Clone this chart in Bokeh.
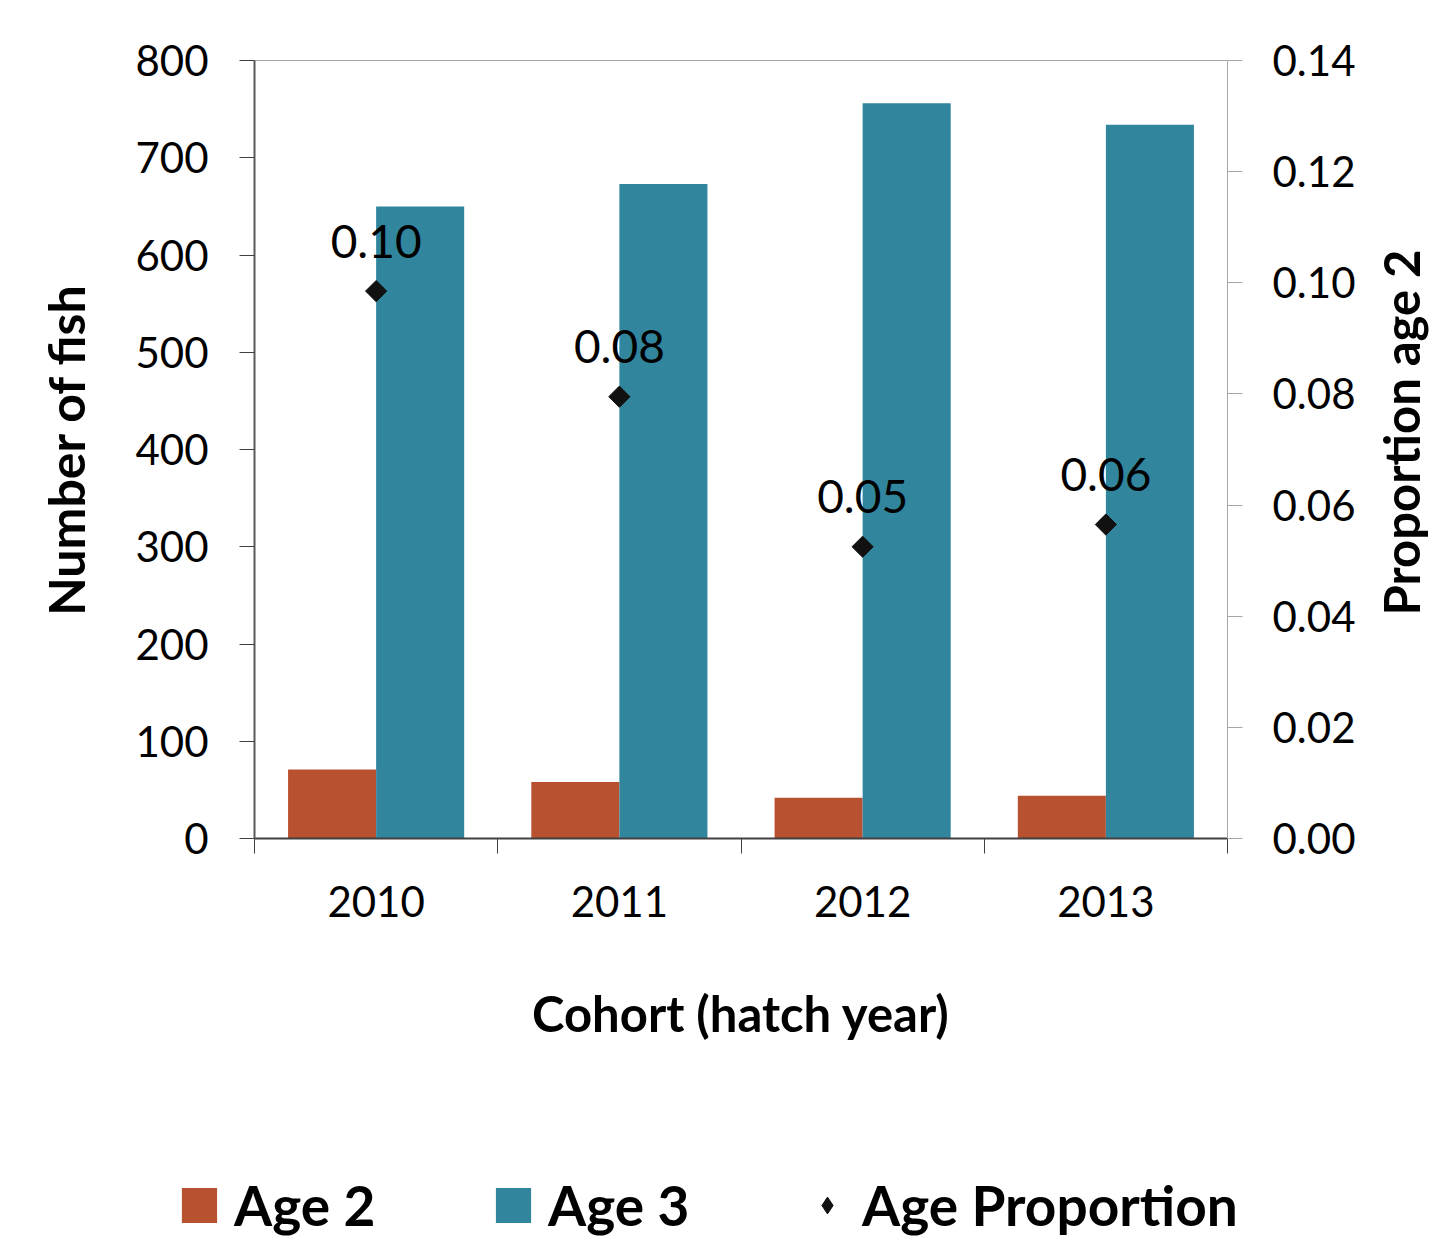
import numpy as np
from bokeh.plotting import figure
from bokeh.layouts import column, row
from bokeh.models import (LinearAxis, Range1d, FixedTicker, Legend, LegendItem,
                          ColumnDataSource, NumeralTickFormatter)
from bokeh.core.properties import value
from bokeh.embed import file_html
from bokeh.resources import INLINE

years = ["2010", "2011", "2012", "2013"]
age2 = [71, 58, 42, 44]
age3 = [650, 673, 756, 734]
prop = [0.0985, 0.0795, 0.0525, 0.0565]
prop_labels = ["0.10", "0.08", "0.05", "0.06"]
left_ticks = [0, 100, 200, 300, 400, 500, 600, 700, 800]
right_ticks = [0.0, 0.02, 0.04, 0.06, 0.08, 0.10, 0.12, 0.14]
series_names = ["Age 2", "Age 3", "Age Proportion"]

C2 = "#B7512F"
C3 = "#31859C"
CP = "#111111"
FONT = "Lato"

centers = np.arange(len(years)) + 0.5
bw = 0.362
src = ColumnDataSource(dict(
    x2=centers - bw / 2, x3=centers + bw / 2, xc=centers,
    age2=age2, age3=age3, prop=prop, lab=prop_labels))

# ---------------- main chart ----------------
p = figure(width=1362, height=1100, output_backend="svg", toolbar_location=None,
           x_range=Range1d(0, len(years)), y_range=Range1d(0, 800),
           min_border_left=254, min_border_right=135, min_border_top=60,
           min_border_bottom=262)
p.extra_y_ranges = {"prop": Range1d(0, 0.14)}
p.xgrid.visible = False
p.ygrid.visible = False
p.outline_line_color = "#A6A6A6"
p.outline_line_width = 1

r2 = p.vbar(x="x2", top="age2", width=bw, bottom=0, source=src, color=C2, line_color=None)
r3 = p.vbar(x="x3", top="age3", width=bw, bottom=0, source=src, color=C3, line_color=None)
rp = p.scatter(x="xc", y="prop", source=src, y_range_name="prop", marker="square",
               angle=np.pi / 4, size=15, color=CP)
p.text(x="xc", y="prop", text="lab", source=src, y_range_name="prop",
       text_font=value(FONT), text_font_size="46px", text_align="center",
       text_baseline="middle", y_offset=-50, text_color="#000000")

# x axis
xa = p.xaxis[0]
xa.ticker = FixedTicker(ticks=list(centers), minor_ticks=list(range(len(years) + 1)))
xa.major_label_overrides = {float(c): y for c, y in zip(centers, years)}
xa.major_tick_out = 0
xa.major_tick_in = 0
xa.minor_tick_out = 15
xa.minor_tick_in = 0
xa.minor_tick_line_color = "#404040"
xa.axis_line_color = "#404040"
xa.axis_line_width = 2
xa.major_label_text_font = FONT
xa.major_label_text_font_size = "42px"
xa.major_label_text_color = "#000000"
xa.major_label_standoff = 32
xa.axis_label = "Cohort (hatch year)"
xa.axis_label_text_font = FONT
xa.axis_label_text_font_style = "bold"
xa.axis_label_text_font_size = "49px"
xa.axis_label_text_color = "#000000"
xa.axis_label_standoff = 64

# left axis
ya = p.yaxis[0]
ya.ticker = FixedTicker(ticks=left_ticks)
ya.major_tick_out = 15
ya.major_tick_in = 0
ya.minor_tick_out = 0
ya.minor_tick_in = 0
ya.axis_line_color = "#595959"
ya.axis_line_width = 2
ya.major_tick_line_color = "#404040"
ya.major_label_text_font = FONT
ya.major_label_text_font_size = "42px"
ya.major_label_text_color = "#000000"
ya.major_label_standoff = 31
ya.axis_label = "Number of fish"
ya.axis_label_text_font = FONT
ya.axis_label_text_font_style = "bold"
ya.axis_label_text_font_size = "50px"
ya.axis_label_text_color = "#000000"
ya.axis_label_standoff = 36

# right axis
ra = LinearAxis(y_range_name="prop", ticker=FixedTicker(ticks=right_ticks),
                formatter=NumeralTickFormatter(format="0.00"))
ra.major_tick_out = 15
ra.major_tick_in = 0
ra.minor_tick_out = 0
ra.minor_tick_in = 0
ra.axis_line_color = "#A6A6A6"
ra.major_tick_line_color = "#A6A6A6"
ra.major_label_text_font = FONT
ra.major_label_text_font_size = "42px"
ra.major_label_text_color = "#000000"
ra.major_label_standoff = 30
p.add_layout(ra, "right")

# ---------------- right axis title strip (reads bottom-to-top) ----------------
tfig = figure(width=68, height=1066, output_backend="svg", toolbar_location=None,
              x_range=Range1d(0, 1), y_range=Range1d(0, 1),
              x_axis_location=None, y_axis_location=None,
              min_border_left=67, min_border_right=0, min_border_top=60,
              min_border_bottom=200)
tfig.outline_line_color = None
tfig.grid.visible = False
ta = LinearAxis(ticker=FixedTicker(ticks=[]))
ta.axis_line_color = None
ta.major_tick_line_color = None
ta.minor_tick_line_color = None
ta.major_tick_out = 0
ta.minor_tick_out = 0
ta.major_label_standoff = 0
ta.axis_label = "Proportion age 2"
ta.axis_label_text_font = FONT
ta.axis_label_text_font_style = "bold"
ta.axis_label_text_font_size = "49px"
ta.axis_label_text_color = "#000000"
ta.axis_label_standoff = 0
tfig.add_layout(ta, "left")

# ---------------- legend strip ----------------
lfig = figure(width=1430, height=138, output_backend="svg", toolbar_location=None,
              x_range=Range1d(0, 1), y_range=Range1d(1000, 1001),
              x_axis_location=None, y_axis_location=None, min_border=0)
lfig.outline_line_color = None
lfig.grid.visible = False
k2 = lfig.vbar(x="x2", top="age2", width=bw, bottom=0, source=src, color=C2, line_color=None)
k3 = lfig.vbar(x="x3", top="age3", width=bw, bottom=0, source=src, color=C3, line_color=None)
kp = lfig.scatter(x="xc", y="prop", source=src, marker="diamond", size=15, color=CP)

common = dict(orientation="horizontal", padding=0, margin=0, border_line_color=None,
              background_fill_alpha=0, label_text_font=FONT,
              label_text_font_style="bold", label_text_font_size="55px",
              label_text_color="#000000")
legend_bars = Legend(items=[LegendItem(label=n, renderers=[r])
                            for n, r in zip(series_names[:2], [k2, k3])],
                     location=(177, 0), glyph_width=44, glyph_height=44,
                     label_standoff=13, spacing=111, label_width=146, **common)
legend_prop = Legend(items=[LegendItem(label=series_names[2], renderers=[kp])],
                     location=(806, 0), glyph_width=42, glyph_height=42,
                     label_standoff=14, **common)
lfig.add_layout(legend_bars, "center")
lfig.add_layout(legend_prop, "center")

layout = column(row(p, tfig), lfig)
open("out.html", "w").write(file_html(layout, INLINE))
